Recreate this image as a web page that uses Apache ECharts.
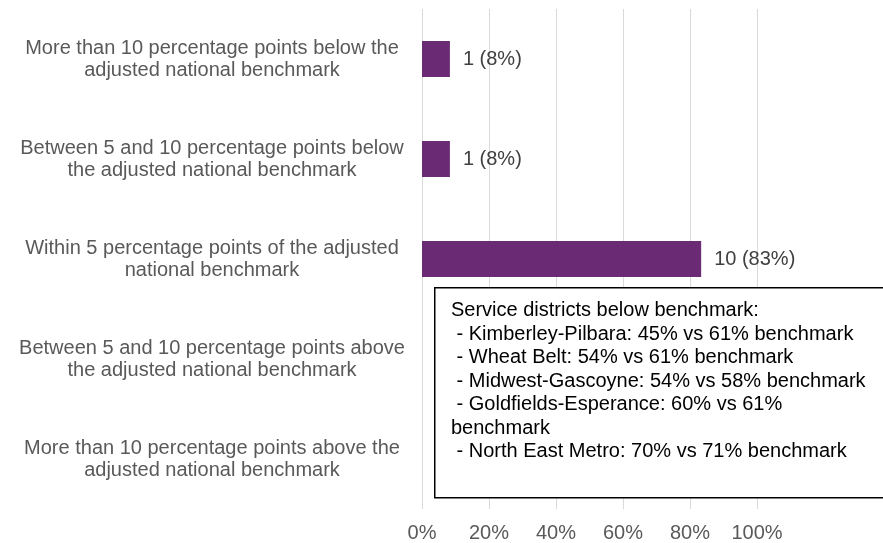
<!DOCTYPE html>
<html>
<head>
<meta charset="utf-8">
<title>Service districts vs adjusted national benchmark</title>
<script src="https://cdn.jsdelivr.net/npm/echarts@6/dist/echarts.min.js"></script>
<style>
  html, body { margin: 0; padding: 0; background: #fff; }
  #chart { width: 883px; height: 543px; }
</style>
</head>
<body>
<div id="chart"></div>
<script>
// categories, top to bottom
const categories = [
  'More than 10 percentage points below the\nadjusted national benchmark',
  'Between 5 and 10 percentage points below\nthe adjusted national benchmark',
  'Within 5 percentage points of the adjusted\nnational benchmark',
  'Between 5 and 10 percentage points above\nthe adjusted national benchmark',
  'More than 10 percentage points above the\nadjusted national benchmark',
];
const counts = [1, 1, 10, 0, 0];
const shares = [8.33, 8.33, 83.33, 0, 0];
const xTicks = [0, 20, 40, 60, 80, 100];

const noteLines = [
  'Service districts below benchmark:',
  ' - Kimberley-Pilbara: 45% vs 61% benchmark',
  ' - Wheat Belt: 54% vs 61% benchmark',
  ' - Midwest-Gascoyne: 54% vs 58% benchmark',
  ' - Goldfields-Esperance: 60% vs 61%',
  'benchmark',
  ' - North East Metro: 70% vs 71% benchmark',
];

const FONT = '"Liberation Sans", Arial, sans-serif';

const chart = echarts.init(document.getElementById('chart'));

chart.setOption({
  animation: false,
  textStyle: { fontFamily: FONT },
  grid: { left: 422, right: 126, top: 9, bottom: 34, containLabel: false },
  xAxis: {
    type: 'value',
    min: xTicks[0],
    max: xTicks[xTicks.length - 1],
    interval: 20,
    axisLine: { show: false },
    axisTick: { show: false },
    splitLine: { show: true, lineStyle: { color: '#d9d9d9', width: 1 } },
    axisLabel: {
      formatter: '{value}%',
      color: '#595959',
      fontSize: 20,
      fontFamily: FONT,
      margin: 14,
    },
  },
  yAxis: {
    type: 'category',
    inverse: true,
    data: categories,
    axisLine: { show: false },
    axisTick: { show: false },
    axisLabel: {
      color: '#595959',
      fontSize: 20,
      fontFamily: FONT,
      lineHeight: 22,
      align: 'center',
      margin: 210,
    },
  },
  series: [
    {
      type: 'bar',
      data: shares,
      barWidth: 36,
      itemStyle: { color: '#6b2a74' },
      label: {
        show: true,
        position: 'right',
        distance: 13,
        color: '#404040',
        fontSize: 20,
        fontFamily: FONT,
        formatter: (p) =>
          counts[p.dataIndex] > 0
            ? counts[p.dataIndex] + ' (' + Math.round(shares[p.dataIndex]) + '%)'
            : '',
      },
    },
  ],
  graphic: [
    {
      type: 'rect',
      left: 434,
      top: 287,
      shape: { width: 470, height: 210 },
      style: { fill: '#fff', stroke: '#000', lineWidth: 1.5 },
      z: 10,
    },
    {
      type: 'text',
      left: 451,
      top: 299,
      z: 11,
      style: {
        text: noteLines.join('\n'),
        fill: '#000',
        font: '20px ' + FONT,
        lineHeight: 23.5,
      },
    },
  ],
});

window.addEventListener('resize', function () {
  chart.resize();
});
</script>
</body>
</html>
